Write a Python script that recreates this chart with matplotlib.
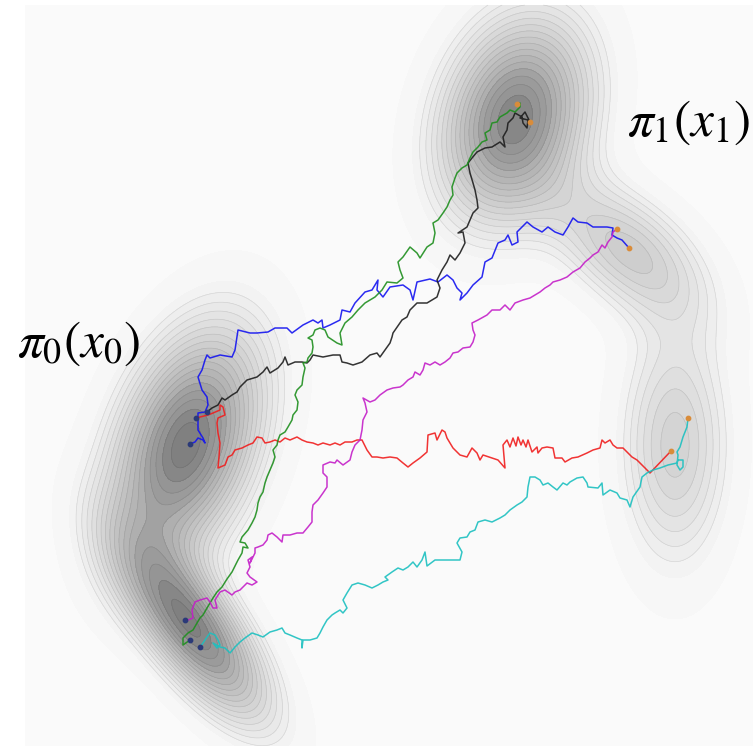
import numpy as np
import matplotlib.pyplot as plt
from matplotlib.colors import ListedColormap

# picture is laid out in pixel coordinates (x right, y down)
W, H = 753, 746

# gaussian bumps of the two marginals (pi_0 on the left, pi_1 on the right)
blob_centers = [(186, 445), (193, 628), (515, 118), (627, 250), (675, 445)]
blob_major = [80, 72, 68, 62, 82]
blob_minor = [44, 28, 46, 34, 36]
blob_angle = [-70, 53, -72, 40, 90]
blob_amp = [1.0, 0.95, 0.95, 0.42, 0.38]

# sample paths
blue_path = [(190, 444), (195, 442), (198, 438), (203, 440), (205, 443), (203, 438), (198, 430), (198, 413),
             (205, 412), (208, 405), (207, 397), (202, 390), (198, 377), (202, 370), (205, 360), (207, 355),
             (210, 358), (220, 355), (232, 357), (235, 350), (238, 330), (250, 333), (257, 333), (268, 332),
             (275, 328), (287, 328), (292, 333), (303, 325), (313, 320), (318, 323), (322, 320), (323, 328),
             (330, 325), (340, 320), (342, 310), (350, 312), (355, 303), (365, 292), (372, 290), (378, 280),
             (377, 290), (383, 297), (390, 287), (403, 285), (410, 290), (413, 300), (417, 282), (430, 279),
             (438, 282), (447, 275), (453, 280), (457, 288), (462, 293), (460, 300), (467, 293), (473, 285),
             (482, 277), (485, 262), (492, 258), (498, 243), (505, 240), (508, 235), (512, 245), (518, 242),
             (517, 232), (527, 222), (533, 227), (542, 232), (548, 227), (555, 232), (563, 235), (568, 227),
             (573, 218), (578, 222), (587, 223), (593, 227), (607, 227), (613, 228), (612, 235), (617, 238),
             (622, 240), (629, 248)]
black_path = [(207, 412), (212, 408), (218, 405), (222, 398), (225, 400), (232, 395), (237, 392), (240, 387),
              (247, 380), (257, 377), (263, 372), (267, 367), (270, 373), (278, 368), (283, 362), (285, 357),
              (288, 365), (295, 362), (302, 362), (307, 363), (310, 360), (313, 355), (323, 357), (333, 355),
              (340, 355), (342, 362), (347, 363), (353, 365), (362, 362), (370, 355), (377, 353), (380, 357),
              (385, 350), (390, 343), (392, 337), (393, 333), (402, 320), (407, 317), (410, 310), (417, 303),
              (427, 303), (437, 297), (440, 288), (437, 280), (442, 270), (447, 262), (450, 255), (455, 260),
              (460, 253), (465, 243), (463, 232), (458, 233), (467, 227), (470, 220), (473, 213), (478, 208),
              (477, 200), (475, 190), (473, 183), (470, 173), (468, 163), (472, 158), (477, 152), (485, 148),
              (492, 147), (500, 142), (505, 147), (503, 137), (507, 130), (508, 123), (513, 118), (515, 113),
              (522, 117), (523, 123), (527, 128), (528, 120), (520, 118), (525, 112), (530, 122)]
red_path = [(196, 418), (208, 415), (213, 413), (220, 410), (220, 405), (223, 407), (225, 415), (218, 418),
            (217, 423), (218, 433), (220, 443), (219, 457), (218, 468), (225, 465), (228, 457), (232, 455),
            (235, 450), (242, 448), (248, 445), (253, 443), (257, 437), (262, 438), (265, 443), (270, 442),
            (275, 440), (280, 442), (285, 438), (290, 440), (297, 437), (302, 440), (307, 442), (313, 443),
            (318, 445), (323, 443), (330, 445), (335, 443), (340, 445), (345, 442), (352, 442), (357, 440),
            (362, 440), (367, 450), (372, 457), (377, 457), (383, 458), (390, 457), (397, 458), (403, 463),
            (408, 467), (413, 463), (420, 458), (427, 452), (428, 435), (435, 433), (437, 440), (442, 430),
            (445, 432), (447, 438), (453, 448), (460, 455), (467, 457), (472, 448), (477, 453), (480, 460),
            (483, 455), (492, 458), (498, 460), (505, 468), (503, 445), (507, 440), (510, 447), (513, 438),
            (516, 446), (518, 437), (521, 445), (523, 440), (526, 447), (528, 440), (532, 452), (537, 447),
            (538, 453), (542, 448), (547, 447), (553, 448), (555, 458), (562, 458), (565, 462), (572, 458),
            (578, 457), (587, 453), (593, 450), (600, 448), (602, 440), (605, 443), (610, 440), (613, 445),
            (617, 448), (623, 448), (627, 452), (632, 457), (637, 460), (642, 465), (647, 470), (650, 473),
            (671, 451)]
green_path = [(190, 640), (183, 645), (183, 638), (188, 633), (193, 630), (197, 623), (200, 618), (203, 615),
              (207, 608), (210, 603), (213, 598), (217, 592), (222, 587), (227, 579), (232, 572), (235, 566),
              (238, 560), (242, 553), (243, 547), (248, 548), (245, 543), (240, 542), (242, 537), (248, 530),
              (252, 523), (255, 517), (257, 510), (258, 503), (260, 497), (263, 492), (265, 483), (267, 477),
              (270, 470), (273, 463), (275, 457), (273, 450), (277, 445), (278, 440), (280, 435), (285, 432),
              (288, 427), (292, 420), (293, 415), (297, 410), (298, 402), (295, 395), (297, 390), (302, 385),
              (303, 377), (305, 368), (303, 363), (307, 362), (308, 358), (312, 353), (313, 347), (312, 340),
              (308, 338), (313, 335), (315, 330), (320, 328), (325, 330), (328, 337), (337, 343), (342, 345),
              (340, 333), (345, 323), (352, 317), (358, 310), (365, 303), (375, 297), (382, 290), (387, 282),
              (397, 283), (403, 278), (400, 270), (398, 262), (403, 257), (410, 247), (417, 253), (420, 258),
              (427, 247), (433, 243), (435, 233), (433, 223), (438, 220), (443, 213), (447, 207), (450, 200),
              (453, 195), (452, 187), (455, 178), (457, 173), (462, 168), (467, 165), (470, 158), (473, 152),
              (478, 147), (482, 142), (487, 140), (485, 133), (490, 130), (492, 123), (497, 122), (500, 117),
              (507, 113), (510, 110), (515, 112), (520, 107), (520, 103), (517, 104)]
magenta_path = [(185, 620), (188, 620), (193, 618), (192, 610), (195, 602), (200, 600), (207, 598), (210, 602),
                (213, 608), (217, 608), (215, 600), (220, 592), (225, 590), (232, 595), (235, 592), (240, 590),
                (243, 587), (247, 583), (252, 585), (257, 582), (250, 577), (247, 573), (250, 567), (248, 560),
                (252, 557), (250, 563), (255, 553), (255, 548), (258, 547), (263, 545), (267, 540), (268, 535),
                (272, 533), (277, 537), (282, 542), (283, 535), (290, 535), (297, 533), (303, 533), (308, 527),
                (312, 522), (312, 512), (313, 505), (318, 500), (323, 493), (327, 487), (327, 477), (323, 473),
                (323, 465), (330, 462), (335, 463), (337, 460), (343, 465), (350, 460), (352, 452), (355, 445),
                (360, 440), (362, 430), (363, 420), (367, 412), (365, 403), (363, 398), (370, 402), (375, 400),
                (380, 395), (387, 390), (393, 388), (400, 387), (403, 385), (408, 380), (413, 377), (415, 372),
                (420, 375), (423, 370), (425, 363), (430, 365), (435, 362), (440, 365), (445, 362), (450, 358),
                (453, 353), (458, 352), (463, 348), (470, 347), (473, 342), (475, 335), (473, 330), (472, 323),
                (478, 320), (487, 315), (492, 310), (500, 310), (505, 305), (510, 310), (515, 303), (523, 300),
                (530, 298), (535, 295), (540, 292), (545, 288), (550, 285), (553, 282), (560, 280), (567, 277),
                (573, 272), (580, 268), (585, 262), (590, 258), (593, 255), (598, 252), (602, 245), (605, 248),
                (608, 242), (612, 237), (613, 232), (617, 229)]
cyan_path = [(200, 647), (203, 643), (207, 637), (210, 633), (215, 635), (218, 640), (220, 645), (217, 648),
             (213, 643), (220, 647), (225, 648), (230, 653), (235, 647), (240, 642), (245, 638), (252, 633),
             (258, 635), (263, 637), (270, 632), (277, 630), (282, 628), (285, 633), (290, 635), (297, 638),
             (302, 640), (302, 648), (303, 640), (310, 640), (317, 638), (320, 633), (323, 627), (327, 620),
             (332, 615), (335, 613), (340, 610), (343, 613), (347, 608), (343, 600), (347, 593), (352, 585),
             (358, 583), (365, 585), (372, 588), (378, 585), (383, 582), (388, 580), (385, 577), (392, 572),
             (398, 568), (403, 570), (408, 567), (413, 562), (417, 567), (422, 560), (425, 552), (427, 566),
             (435, 560), (447, 560), (460, 560), (462, 552), (457, 543), (460, 538), (467, 537), (470, 532),
             (475, 530), (478, 522), (485, 520), (492, 522), (500, 518), (505, 515), (510, 510), (517, 505),
             (522, 502), (527, 497), (528, 487), (530, 477), (535, 477), (540, 480), (543, 485), (548, 483),
             (553, 487), (557, 490), (563, 483), (567, 485), (570, 482), (577, 478), (583, 477), (587, 483),
             (588, 487), (598, 488), (602, 483), (603, 495), (610, 490), (617, 493), (620, 498), (627, 500),
             (630, 507), (633, 497), (640, 487), (642, 477), (647, 473), (653, 470), (660, 468), (668, 465),
             (677, 463), (678, 460), (683, 460), (683, 467), (680, 470), (677, 465), (678, 455), (677, 452),
             (680, 447), (683, 437), (687, 427), (688, 418)]

paths = [blue_path, black_path, red_path, green_path, magenta_path, cyan_path]
colors = ['#1414f0', '#1e1e1e', '#f01e1e', '#1f8f1f', '#c41fc8', '#1cc0c0']


def density(X, Y):
    Z = np.zeros_like(X)
    for (cx, cy), a, b, ang, amp in zip(blob_centers, blob_major, blob_minor, blob_angle, blob_amp):
        t = np.deg2rad(ang)
        dx, dy = X - cx, Y - cy
        u = dx * np.cos(t) + dy * np.sin(t)
        v = -dx * np.sin(t) + dy * np.cos(t)
        Z += amp * np.exp(-0.5 * ((u / a) ** 2 + (v / b) ** 2))
    return Z


fig = plt.figure(figsize=(W / 100, H / 100), dpi=100)
ax = fig.add_axes([0, 0, 1, 1])
plt.rcParams['mathtext.fontset'] = 'stix'

gx = np.linspace(25, W, 420)
gy = np.linspace(5, H, 420)
X, Y = np.meshgrid(gx, gy)
Z = density(X, Y)
# a few more levels in the faint tails than near the peaks
levels = Z.max() * 1.02 * np.linspace(0, 1, 23) ** 1.35
# outer bands fade into the background
greys = (250 - 122 * np.linspace(0, 1, len(levels) - 1) ** 1.2) / 255
cmap = ListedColormap([(g, g, g) for g in greys])
ax.contourf(X, Y, Z, levels=levels, cmap=cmap)
ax.contour(X, Y, Z, levels=levels[5:], colors='k', linewidths=0.5, alpha=0.1)

for p, c in zip(paths, colors):
    p = np.array(p)
    ax.plot(p[:, 0], p[:, 1], color=c, lw=1.1, alpha=0.9)
    ax.scatter(p[0, 0], p[0, 1], s=10, color='#2b3a78', zorder=5)
    ax.scatter(p[-1, 0], p[-1, 1], s=10, color='#d98c3a', zorder=5)

ax.text(78, 343, r'$\pi_0(x_0)$', fontsize=37, ha='center', va='center')
ax.text(688, 122, r'$\pi_1(x_1)$', fontsize=37, ha='center', va='center')

ax.set_xlim(0, W)
ax.set_ylim(H, 0)
ax.axis('off')
fig.savefig('out.png', dpi=100, facecolor='white')
